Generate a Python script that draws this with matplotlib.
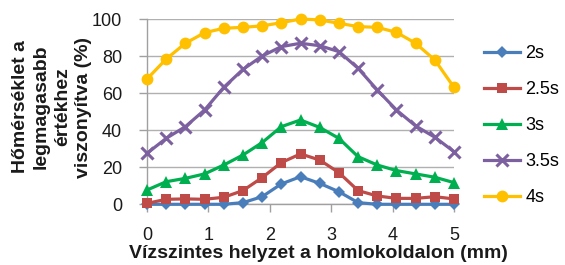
import matplotlib
matplotlib.use("Agg")
import matplotlib.pyplot as plt
import numpy as np

plt.rcParams['font.family'] = ['Liberation Sans', 'DejaVu Sans']

x = [i * 5 / 16 for i in range(17)]
series_names = ["2s", "2.5s", "3s", "3.5s", "4s"]
s2 = [0, 0, 0, 0, 0, 0.9, 4.1, 11.0, 14.9, 11.3, 6.8, 0.9, 0, 0, 0, 0, 0]
s25 = [0.5, 2.7, 2.9, 2.7, 3.8, 7.4, 14.4, 22.5, 27.2, 23.9, 17.1, 7.4, 4.5, 3.2, 3.2, 4.1, 2.9]
s3 = [7.7, 12.2, 14.0, 16.4, 21.2, 26.6, 33.3, 41.9, 45.5, 41.5, 35.6, 25.7, 21.2, 18.2, 16.4, 14.6, 11.7]
s35 = [27.5, 35.6, 41.9, 50.9, 63.1, 72.8, 80.0, 85.1, 86.9, 85.6, 82.4, 73.4, 61.7, 50.9, 42.3, 36.2, 28.4]
s4 = [67.6, 78.4, 86.9, 92.6, 95.0, 95.5, 96.3, 98.0, 100.0, 99.5, 97.7, 95.9, 95.5, 92.8, 86.9, 77.9, 63.1]
values = [s2, s25, s3, s35, s4]
xticks = [0, 1, 2, 3, 4, 5]
yticks = [0, 20, 40, 60, 80, 100]

colors = ["#4A7EBB", "#BE4B48", "#00B050", "#7D60A0", "#FFC000"]
markers = ["D", "s", "^", "x", "o"]
msizes = [6, 7.5, 8, 8, 8.5]

fig = plt.figure(figsize=(5.65, 2.65), dpi=100)
ax = fig.add_axes([147 / 565, 1 - 204.3 / 265, (454 - 147) / 565, (204.3 - 19) / 265])

for name, vals, c, m, ms in zip(series_names, values, colors, markers, msizes):
    kw = dict(markeredgewidth=2.2) if m == "x" else dict(markeredgewidth=0)
    ax.plot(x, vals, color=c, lw=2.3, marker=m, markersize=ms, label=name,
            clip_on=False, zorder=3, **kw)

ax.set_xlim(0, 5)
ax.set_ylim(0, 100)
ax.set_xticks(xticks)
ax.set_yticks(yticks)
ax.grid(axis='y', color='#B0B0B0', lw=1)
ax.set_axisbelow(True)
for sp in ['top', 'right']:
    ax.spines[sp].set_visible(False)
for sp in ['left', 'bottom']:
    ax.spines[sp].set_color('#A0A0A0')
    ax.spines[sp].set_linewidth(1)
ax.tick_params(axis='both', colors='#A0A0A0', labelcolor='#1a1a1a', labelsize=13,
               length=6, width=1)
ax.tick_params(axis='y', pad=12)
ax.tick_params(axis='x', pad=10)

fig.text(318 / 565, 1 - 254 / 265, "Vízszintes helyzet a homlokoldalon (mm)",
         fontsize=14, fontweight='bold', ha='center', va='center', color='#1a1a1a')
fig.text(52 / 565, 1 - 107 / 265,
         "Hőmérséklet a\nlegmagasabb\nértékhez\nviszonyítva (%)",
         rotation=90, ha='center', va='center', fontsize=14, fontweight='bold',
         linespacing=1.3, multialignment='center', color='#1a1a1a')

leg = fig.legend(loc='upper left', bbox_to_anchor=(484 / 565, 1 - 45 / 265),
                 frameon=False, fontsize=13, handlelength=2.0, handletextpad=0.3,
                 labelspacing=1.05, borderaxespad=0, borderpad=0)

fig.savefig("out.png", dpi=100)
